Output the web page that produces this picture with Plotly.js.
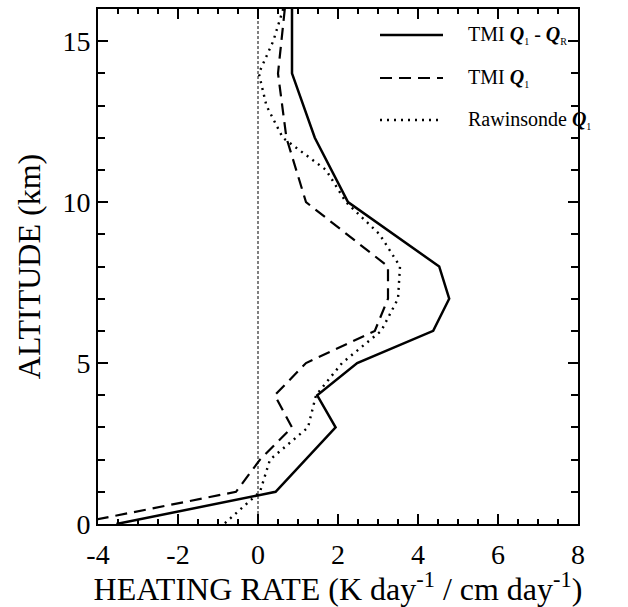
<!DOCTYPE html>
<html>
<head>
<meta charset="utf-8">
<script src="https://cdn.plot.ly/plotly-3.0.1.min.js"></script>
<style>html,body{margin:0;padding:0;background:#fff;}</style>
</head>
<body>
<div id="chart" style="width:628px;height:607px;"></div>
<script>
// TMI Q1 - QR (solid)
const altSolid = [16, 14, 12, 10, 8, 7, 6, 5, 4, 3, 1, 0];
const heatSolid = [0.85, 0.85, 1.42, 2.25, 4.53, 4.78, 4.38, 2.48, 1.48, 1.94, 0.44, -3.54];
// TMI Q1 (dashed)
const altDash = [16, 14, 12, 10, 8, 7, 6, 5, 4, 3, 2, 1, 0];
const heatDash = [0.67, 0.5, 0.71, 1.2, 3.25, 3.25, 2.92, 1.2, 0.42, 0.85, 0.05, -0.55, -4.6];
// Rawinsonde Q1 (dotted)
const altDot = [16, 15, 14, 13, 12, 11, 10, 9, 8, 7, 6, 5, 4, 3, 2, 1, 0];
const heatDot = [0.63, 0.38, 0.02, 0.21, 0.62, 1.7, 2.2, 3.04, 3.55, 3.5, 3.08, 2.1, 1.45, 1.25, 0.3, 0.05, -0.85];

const SUB = s => '<sub><span style="font-size:10px">' + s + '</span></sub>';
const Q = '<b><i>Q</i></b>';
const seriesNames = ['TMI ' + Q + SUB('1') + ' - ' + Q + SUB('R'), 'TMI ' + Q + SUB('1'), 'Rawinsonde ' + Q + SUB('1')];
const xTickVals = [-4, -2, 0, 2, 4, 6, 8];
const xTickText = ['-4', '-2', '0', '2', '4', '6', '8'];
const yTickVals = [0, 5, 10, 15];
const yTickText = ['0', '5', '10', '15'];

const FONT = 'Liberation Serif';
const dashes = ['solid', '12px,7px', '2px,5px'];
const widths = [2.5, 2.2, 2.4];

const traces = [
  {x: heatSolid, y: altSolid, mode: 'lines', line: {color: '#000', width: widths[0], dash: dashes[0]}, showlegend: false},
  {x: heatDash, y: altDash, mode: 'lines', line: {color: '#000', width: widths[1], dash: dashes[1]}, showlegend: false},
  {x: heatDot, y: altDot, mode: 'lines', line: {color: '#000', width: widths[2], dash: dashes[2]}, showlegend: false}
];

// legend drawn manually (paper coords)
const legY = [0.9495, 0.866, 0.7845];
const shapes = [
  {type: 'line', xref: 'x', yref: 'paper', x0: 0, x1: 0, y0: 0, y1: 1, line: {color: '#000', width: 1, dash: '3px,2px'}, layer: 'below'}
];
const annotations = [];
for (let i = 0; i < 3; i++) {
  shapes.push({type: 'line', xref: 'paper', yref: 'paper', x0: 0.5875, x1: 0.71875, y0: legY[i], y1: legY[i],
    line: {color: '#000', width: widths[i], dash: dashes[i]}});
  annotations.push({xref: 'paper', yref: 'paper', x: 0.7667, y: legY[i], xanchor: 'left', yanchor: 'middle',
    text: seriesNames[i], showarrow: false, font: {family: FONT, size: 20, color: '#000'}});
}

const layout = {
  width: 628, height: 607,
  margin: {l: 98, r: 50, t: 9, b: 83, pad: 0},
  paper_bgcolor: '#fff', plot_bgcolor: '#fff',
  font: {family: FONT, color: '#000'},
  showlegend: false,
  xaxis: {
    range: [-4, 8], tickmode: 'array', tickvals: xTickVals, ticktext: xTickText, ticks: 'inside', ticklen: 10, tickwidth: 2, tickcolor: '#000',
    mirror: 'allticks', showline: true, linewidth: 2, linecolor: '#000', showgrid: false, zeroline: false,
    minor: {dtick: 0.5, tick0: -4, ticks: 'inside', ticklen: 5, tickwidth: 2, tickcolor: '#000', showgrid: false},
    tickfont: {family: FONT, size: 28, color: '#000'}, ticklabelstandoff: 4,
    title: {text: 'HEATING RATE (K day<sup>-1</sup> / cm day<sup>-1</sup>)', font: {family: FONT, size: 32, color: '#000'}, standoff: 2}
  },
  yaxis: {
    range: [0, 16], tickmode: 'array', tickvals: yTickVals, ticktext: yTickText, ticks: 'inside', ticklen: 10, tickwidth: 2, tickcolor: '#000',
    mirror: 'allticks', showline: true, linewidth: 2, linecolor: '#000', showgrid: false, zeroline: false,
    minor: {dtick: 1, tick0: 0, ticks: 'inside', ticklen: 7, tickwidth: 2, tickcolor: '#000', showgrid: false},
    tickfont: {family: FONT, size: 28, color: '#000'},
    title: {text: 'ALTITUDE (km)', font: {family: FONT, size: 32, color: '#000'}, standoff: 12}
  },
  shapes: shapes,
  annotations: annotations
};

Plotly.newPlot('chart', traces, layout, {displayModeBar: false, staticPlot: true});
</script>
</body>
</html>
